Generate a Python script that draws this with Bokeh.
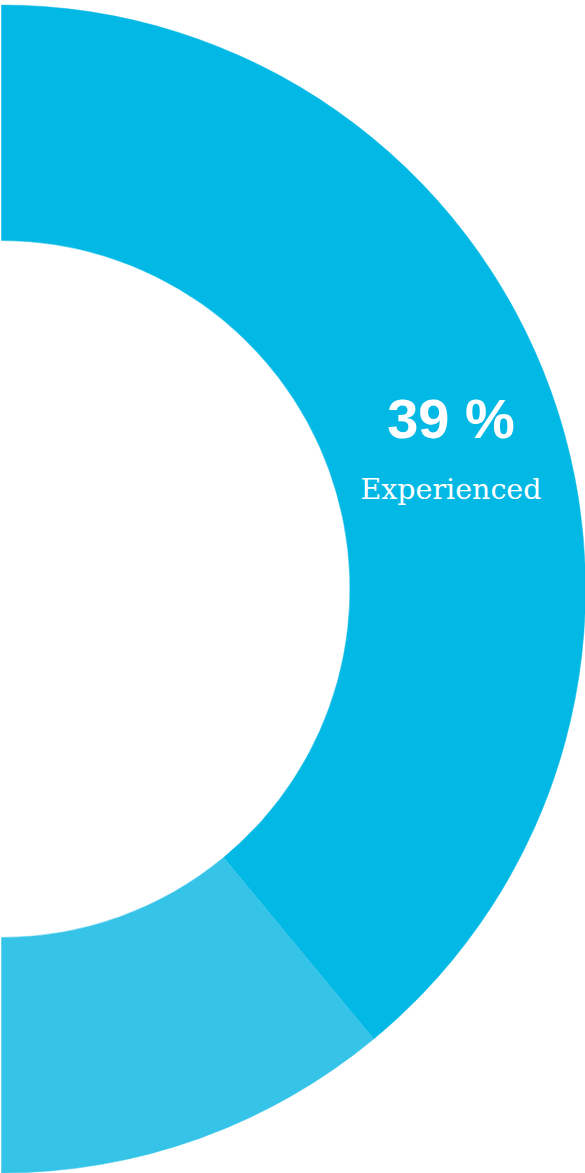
import math
from bokeh.plotting import figure
from bokeh.models import Range1d
from bokeh.core.properties import value
from bokeh.embed import file_html
from bokeh.resources import INLINE

# data
categories = ["Experienced", "Other"]
percents = [39, 11]
colors = ["#02B8E4", "#35C4E8"]
label_texts = ["39 %", "Experienced"]

W, H = 585, 1173
cx, cy = 1.0, H - 588.5
r_out, r_in = 584.0, 348.5

p = figure(width=W, height=H, output_backend="svg", toolbar_location=None,
           x_range=Range1d(0, W), y_range=Range1d(0, H),
           min_border=0, outline_line_color=None,
           styles={"position": "absolute", "left": "0px", "top": "0px"})
p.axis.visible = False
p.grid.visible = False
p.background_fill_color = "white"
p.border_fill_color = "white"

start = math.pi / 2
for pct, col in zip(percents, colors):
    sweep = pct / 100 * 2 * math.pi
    end = start - sweep
    p.annular_wedge(x=[cx], y=[cy], inner_radius=r_in, outer_radius=r_out,
                    start_angle=end, end_angle=start, direction="anticlock",
                    color=col, line_color=col, line_width=0.5)
    start = end

# label for first segment
a = math.radians(16.6)
r_lab = 469
lx = cx + r_lab * math.cos(a)
ly = cy + r_lab * math.sin(a)
p.text(x=[lx], y=[ly], text=[label_texts[0]], y_offset=-37,
       text_font=value("Liberation Sans"), text_font_style="bold",
       text_font_size="56px", text_color="white",
       text_align="center", text_baseline="middle")
p.text(x=[lx], y=[ly], text=[label_texts[1]], y_offset=34,
       text_font=value("DejaVu Serif"), text_font_size="28.5px",
       text_color="white", text_align="center", text_baseline="middle")

open("out.html", "w").write(file_html(p, INLINE))
